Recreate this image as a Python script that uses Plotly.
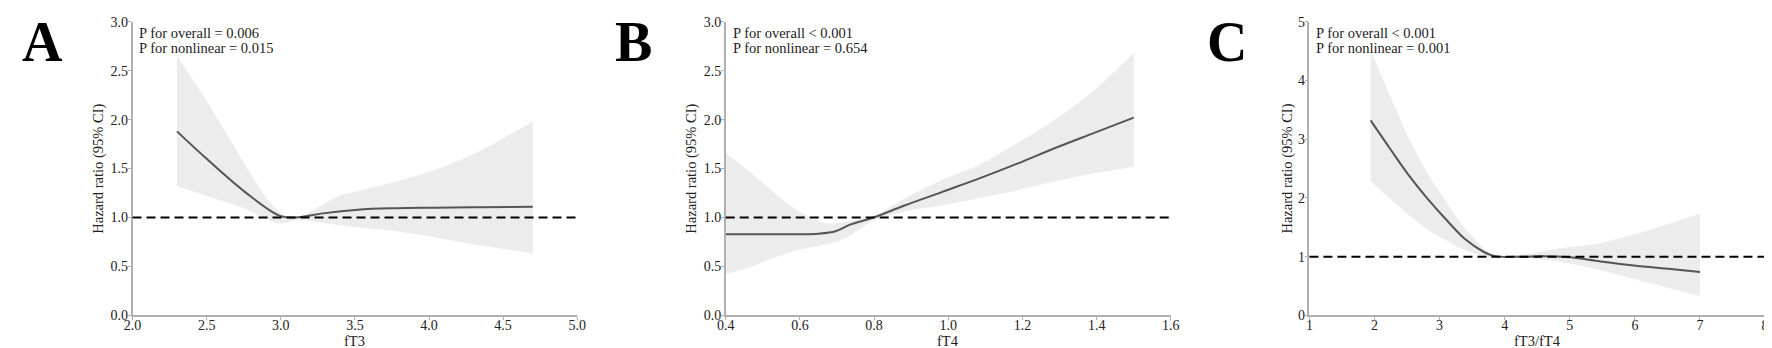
import plotly.graph_objects as go

W, H = 1772, 348

# ---- Panel A: fT3 ----
a_x = [2.30, 2.50, 2.76, 2.99, 3.09, 3.16, 3.27, 3.52, 3.78, 4.03, 4.29, 4.54, 4.70]
a_hr = [1.88, 1.60, 1.26, 1.02, 1.00, 1.01, 1.04, 1.08, 1.095, 1.10, 1.105, 1.108, 1.11]
a_ci_x = [2.30, 2.50, 2.76, 2.88, 2.96, 3.01, 3.11, 3.27, 3.39, 3.52, 3.78, 4.03, 4.29, 4.54, 4.70]
a_up = [2.65, 2.19, 1.54, 1.25, 1.10, 1.04, 1.00, 1.12, 1.22, 1.27, 1.37, 1.48, 1.64, 1.84, 1.98]
a_lo = [1.32, 1.22, 1.09, 1.00, 0.95, 0.94, 0.975, 0.95, 0.925, 0.90, 0.86, 0.80, 0.73, 0.67, 0.63]

# ---- Panel B: fT4 ----
b_x = [0.40, 0.50, 0.60, 0.65, 0.696, 0.737, 0.798, 0.88, 0.982, 1.084, 1.186, 1.288, 1.39, 1.50]
b_hr = [0.83, 0.83, 0.83, 0.835, 0.86, 0.93, 1.00, 1.12, 1.26, 1.40, 1.55, 1.71, 1.86, 2.02]
b_ci_x = [0.40, 0.47, 0.574, 0.635, 0.676, 0.727, 0.80, 0.88, 0.98, 1.084, 1.186, 1.288, 1.39, 1.50]
b_up = [1.66, 1.45, 1.12, 0.99, 0.94, 0.96, 1.02, 1.19, 1.38, 1.54, 1.76, 2.00, 2.29, 2.68]
b_lo = [0.42, 0.50, 0.65, 0.70, 0.73, 0.80, 0.97, 1.06, 1.12, 1.20, 1.28, 1.37, 1.45, 1.52]

# ---- Panel C: fT3/fT4 ----
c_x = [1.94, 2.25, 2.53, 2.82, 3.11, 3.39, 3.68, 3.85, 4.26, 4.60, 5.00, 5.40, 5.98, 6.55, 7.00]
c_hr = [3.32, 2.82, 2.38, 1.98, 1.62, 1.30, 1.08, 1.01, 1.00, 1.01, 0.99, 0.93, 0.85, 0.79, 0.74]
c_ci_x = [1.94, 2.25, 2.53, 2.82, 3.11, 3.39, 3.68, 3.85, 4.26, 4.83, 5.40, 5.98, 6.55, 7.00]
c_up = [4.52, 3.71, 3.01, 2.41, 1.92, 1.49, 1.14, 1.01, 1.03, 1.14, 1.22, 1.38, 1.57, 1.73]
c_lo = [2.28, 1.98, 1.71, 1.46, 1.27, 1.11, 1.01, 0.99, 0.98, 0.92, 0.79, 0.62, 0.46, 0.33]

panels = [
    dict(letter="A", xt="fT3", xr=[2, 5], xtick=[2.0, 2.5, 3.0, 3.5, 4.0, 4.5, 5.0], xfmt=".1f",
         yr=[0, 3], ytick=[0, 0.5, 1.0, 1.5, 2.0, 2.5, 3.0], yfmt=".1f",
         x=a_x, hr=a_hr, cx=a_ci_x, up=a_up, lo=a_lo,
         p1="P for overall = 0.006", p2="P for nonlinear = 0.015",
         ax0=116.7, ax1=566, letter_x=26, ytitle_x=82),
    dict(letter="B", xt="fT4", xr=[0.4, 1.6], xtick=[0.4, 0.6, 0.8, 1.0, 1.2, 1.4, 1.6], xfmt=".1f",
         yr=[0, 3], ytick=[0, 0.5, 1.0, 1.5, 2.0, 2.5, 3.0], yfmt=".1f",
         x=b_x, hr=b_hr, cx=b_ci_x, up=b_up, lo=b_lo,
         p1="P for overall < 0.001", p2="P for nonlinear = 0.654",
         ax0=716, ax1=1165.7, letter_x=623, ytitle_x=681),
    dict(letter="C", xt="fT3/fT4", xr=[1, 8], xtick=[1, 2, 3, 4, 5, 6, 7, 8], xfmt="d",
         yr=[0, 5], ytick=[0, 1, 2, 3, 4, 5], yfmt="d",
         x=c_x, hr=c_hr, cx=c_ci_x, up=c_up, lo=c_lo,
         p1="P for overall < 0.001", p2="P for nonlinear = 0.001",
         ax0=1305.7, ax1=1766, letter_x=1222, ytitle_x=1284),
]

FONT = "Liberation Serif"
FS = 14.5
TFS = 14
y_top, y_bot = 7, 314
ydom = [1 - y_bot / H, 1 - y_top / H]

fig = go.Figure()
annotations = []
shapes = []
for i, p in enumerate(panels, start=1):
    xa = "x" if i == 1 else f"x{i}"
    ya = "y" if i == 1 else f"y{i}"
    fig.add_trace(go.Scatter(x=p["cx"], y=p["up"], xaxis=xa, yaxis=ya, mode="lines",
                             line=dict(width=0, shape="spline", smoothing=0.8),
                             showlegend=False, hoverinfo="skip"))
    fig.add_trace(go.Scatter(x=p["cx"], y=p["lo"], xaxis=xa, yaxis=ya, mode="lines",
                             fill="tonexty", fillcolor="#ececec",
                             line=dict(width=0, shape="spline", smoothing=0.8),
                             showlegend=False, hoverinfo="skip"))
    fig.add_trace(go.Scatter(x=p["x"], y=p["hr"], xaxis=xa, yaxis=ya, mode="lines",
                             line=dict(color="#555555", width=2, shape="spline", smoothing=1.0),
                             showlegend=False))
    shapes.append(dict(type="line", xref=f"{xa} domain", yref=ya, x0=0, x1=1, y0=1, y1=1,
                       line=dict(color="black", width=2, dash="9px,5px")))
    axis_common = dict(showgrid=False, zeroline=False, showline=True, linecolor="#b0b0b0",
                       linewidth=1.5, ticks="outside", ticklen=3, tickcolor="#b0b0b0",
                       tickwidth=1, ticklabeloverflow="allow",
                       tickfont=dict(family=FONT, size=TFS, color="#222"))
    fig.update_layout(**{
        ("xaxis" if i == 1 else f"xaxis{i}"): dict(
            domain=[p["ax0"] / W, p["ax1"] / W], anchor=ya, range=p["xr"],
            tickvals=p["xtick"], tickformat=p["xfmt"], ticklabelstandoff=-7, **axis_common),
        ("yaxis" if i == 1 else f"yaxis{i}"): dict(
            domain=ydom, anchor=xa, range=p["yr"],
            tickvals=p["ytick"], tickformat=p["yfmt"], ticklabelstandoff=-3, **axis_common),
    })
    # Panel letter
    annotations.append(dict(text=f"<b>{p['letter']}</b>", x=p["letter_x"] / W, y=1 - 28 / H,
                            xref="paper", yref="paper", xanchor="center", yanchor="middle",
                            showarrow=False, font=dict(family=FONT, size=56, color="black")))
    # P-values
    for txt, yy in ((p["p1"], 19), (p["p2"], 34)):
        annotations.append(dict(text=txt, x=(p["ax0"] + 5) / W, y=1 - yy / H,
                                xref="paper", yref="paper", xanchor="left", yanchor="middle",
                                showarrow=False, font=dict(family=FONT, size=FS, color="#222")))
    # y title
    annotations.append(dict(text="Hazard ratio (95% CI)", x=p["ytitle_x"] / W,
                            y=1 - ((y_top + y_bot) / 2) / H, xref="paper", yref="paper",
                            xanchor="center", yanchor="middle", textangle=-90, showarrow=False,
                            font=dict(family=FONT, size=FS, color="#222")))
    # x title
    annotations.append(dict(text=p["xt"], x=((p["ax0"] + p["ax1"]) / 2) / W, y=1 - 341 / H,
                            xref="paper", yref="paper", xanchor="center", yanchor="middle",
                            showarrow=False, font=dict(family=FONT, size=FS, color="#222")))

fig.update_layout(width=W, height=H, margin=dict(l=0, r=0, t=0, b=0),
                  paper_bgcolor="white", plot_bgcolor="white",
                  annotations=annotations, shapes=shapes)
fig.write_html("out.html")
